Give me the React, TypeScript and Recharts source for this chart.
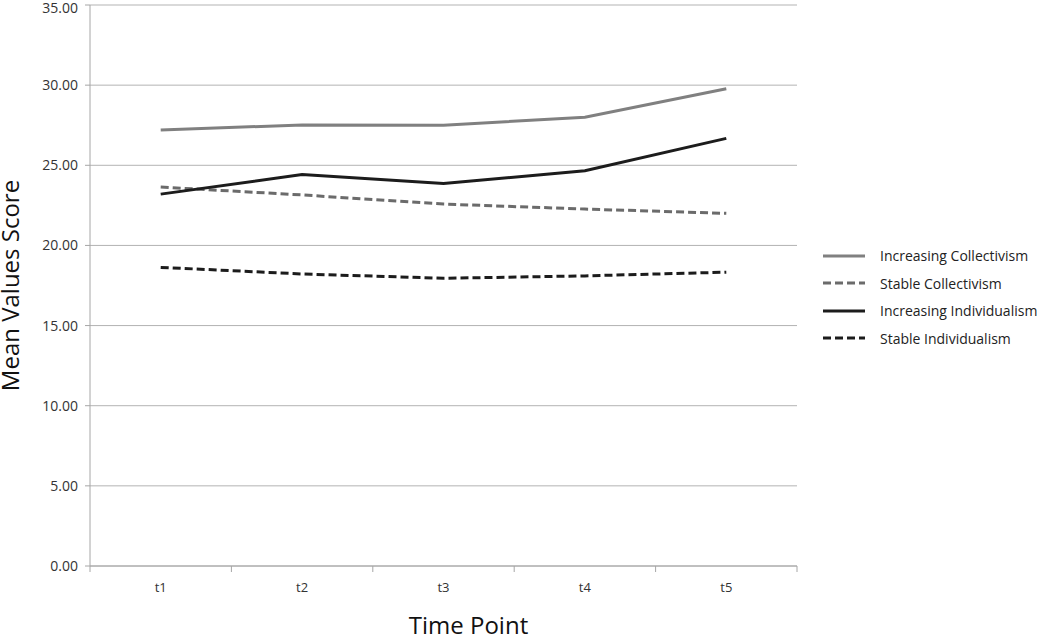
import React from 'react';
import { LineChart, Line, XAxis, YAxis, CartesianGrid, Label } from 'recharts';

const timePoints = ['t1', 't2', 't3', 't4', 't5'];
const increasingCollectivism = [27.2, 27.52, 27.5, 28.0, 29.78];
const stableCollectivism = [23.64, 23.15, 22.58, 22.27, 22.0];
const increasingIndividualism = [23.2, 24.42, 23.86, 24.66, 26.68];
const stableIndividualism = [18.63, 18.22, 17.95, 18.1, 18.33];
const yTicks = [0, 5, 10, 15, 20, 25, 30, 35];

const seriesList = [
  { key: 'incColl', name: 'Increasing Collectivism', values: increasingCollectivism, color: '#808080', dash: undefined },
  { key: 'stColl', name: 'Stable Collectivism', values: stableCollectivism, color: '#6b6b6b', dash: '8 4' },
  { key: 'incInd', name: 'Increasing Individualism', values: increasingIndividualism, color: '#1c1c1c', dash: undefined },
  { key: 'stInd', name: 'Stable Individualism', values: stableIndividualism, color: '#1c1c1c', dash: '8 4' },
];

const data = timePoints.map((t, i) => {
  const row: Record<string, string | number> = { t };
  seriesList.forEach((s) => {
    row[s.key] = s.values[i];
  });
  return row;
});

const FONT = '"Open Sans", "Liberation Sans", sans-serif';
const CHART_W = 1050;
const CHART_H = 638;
const PLOT_LEFT = 90;
const PLOT_RIGHT = 797;
const BAND = (PLOT_RIGHT - PLOT_LEFT) / timePoints.length;

function XTick(props: any) {
  const { x, y, payload, index } = props;
  const last = index === timePoints.length - 1;
  return (
    <g>
      <line x1={x - BAND / 2} x2={x - BAND / 2} y1={y - 8} y2={y - 2} stroke="#a6a6a6" />
      {last && <line x1={x + BAND / 2} x2={x + BAND / 2} y1={y - 8} y2={y - 2} stroke="#a6a6a6" />}
      <text x={x} y={y + 18} textAnchor="middle" fontSize={13} fill="#333" fontFamily={FONT}>
        {payload.value}
      </text>
    </g>
  );
}

function LegendBox() {
  return (
    <div style={{ position: 'absolute', left: 822, top: 242, fontFamily: FONT, fontSize: 14, color: '#222' }}>
      {seriesList.map((s) => (
        <div key={s.key} style={{ display: 'flex', alignItems: 'center', height: 27.5 }}>
          <svg width={44} height={10} style={{ marginRight: 14 }}>
            <line x1={1} x2={43} y1={5} y2={5} stroke={s.color} strokeWidth={3} strokeDasharray={s.dash} />
          </svg>
          <span>{s.name}</span>
        </div>
      ))}
    </div>
  );
}

export default function App() {
  return (
    <div style={{ position: 'absolute', left: 0, top: 0, width: CHART_W, height: CHART_H, background: '#fff' }}>
      <LineChart width={CHART_W} height={CHART_H} data={data} margin={{ top: 5, right: CHART_W - PLOT_RIGHT, left: 0, bottom: 0 }}>
        <CartesianGrid vertical={false} stroke="#b3b3b3" />
        <XAxis
          dataKey="t"
          scale="band"
          height={72}
          axisLine={{ stroke: '#a6a6a6' }}
          tickLine={false}
          tick={<XTick />}
        >
          <Label value="Time Point" position="insideBottom" offset={4} style={{ fontSize: 24, fill: '#111', fontFamily: FONT }} dx={25} />
        </XAxis>
        <YAxis
          domain={[0, 35]}
          ticks={yTicks}
          width={PLOT_LEFT}
          axisLine={{ stroke: '#a6a6a6' }}
          tickLine={{ stroke: '#a6a6a6' }}
          tickSize={5}
          tickMargin={7}
          tickFormatter={(v: number) => v.toFixed(2)}
          tick={{ fontSize: 14, fill: '#333', fontFamily: FONT }}
        >
          <Label
            value="Mean Values Score"
            angle={-90}
            position="insideLeft"
            offset={10}
            style={{ fontSize: 24, fill: '#111', fontFamily: FONT, textAnchor: 'middle' }}
          />
        </YAxis>
        {seriesList.map((s) => (
          <Line
            key={s.key}
            type="linear"
            dataKey={s.key}
            name={s.name}
            stroke={s.color}
            strokeWidth={3}
            strokeDasharray={s.dash}
            dot={false}
            activeDot={false}
            isAnimationActive={false}
          />
        ))}
      </LineChart>
      <LegendBox />
    </div>
  );
}
